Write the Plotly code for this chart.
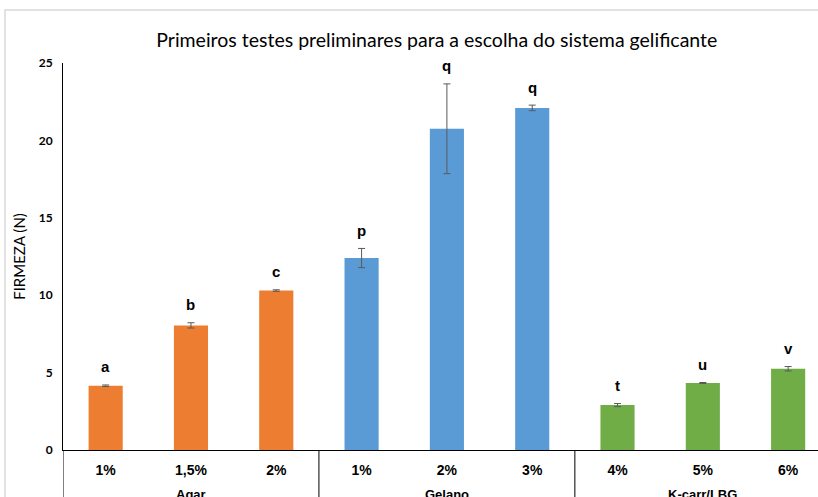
import plotly.graph_objects as go

# dados
categorias = ["1%", "1,5%", "2%", "1%", "2%", "3%", "4%", "5%", "6%"]
grupos = ["Agar", "Gelano", "K-carr/LBG"]
firmeza = [4.15, 8.05, 10.3, 12.4, 20.75, 22.1, 2.9, 4.33, 5.25]
desvio = [0.05, 0.17, 0.05, 0.62, 2.9, 0.18, 0.1, 0.03, 0.14]
letras = ["a", "b", "c", "p", "q", "q", "t", "u", "v"]

cores = ["#ED7D31"] * 3 + ["#5B9BD5"] * 3 + ["#70AD47"] * 3
fonte = "Lato"
fonte_arial = "Liberation Sans"
x = list(range(len(categorias)))

fig = go.Figure()
fig.add_trace(go.Bar(
    x=x, y=firmeza, width=0.4,
    marker=dict(color=cores, line=dict(width=0)),
    error_y=dict(type="data", array=desvio, visible=True,
                 color="#595959", thickness=1, width=3.5),
    showlegend=False,
))

# letras acima das barras
for xi, v, d, l in zip(x, firmeza, desvio, letras):
    fig.add_annotation(x=xi, y=v + d, text="<b>%s</b>" % l, showarrow=False,
                       yanchor="middle", yshift=18,
                       font=dict(family=fonte_arial, size=15, color="#000000"))

# nomes dos grupos
for i, g in enumerate(grupos):
    fig.add_annotation(x=3 * i + 1, y=-0.114, xref="x", yref="paper",
                       text="<b>%s</b>" % g, showarrow=False, yanchor="middle",
                       font=dict(family=fonte_arial, size=13, color="#000000"))

# divisórias entre grupos
for xd in [-0.5, 2.5, 5.5]:
    fig.add_shape(type="line", xref="x", yref="paper", x0=xd, x1=xd,
                  y0=0, y1=-0.3, line=dict(color="#000000", width=1))

# moldura do gráfico
fig.add_shape(type="rect", xref="paper", yref="paper",
              x0=-0.0768, x1=1.2, y0=-0.5, y1=1.137,
              line=dict(color="#D9D9D9", width=1.5), layer="below")

fig.update_layout(
    width=818, height=497,
    margin=dict(l=63, r=0, t=63, b=47, autoexpand=False),
    paper_bgcolor="white", plot_bgcolor="white",
    title=dict(text="Primeiros testes preliminares para a escolha do sistema gelificante",
               x=0.534, xanchor="center", y=0.919, yanchor="middle",
               font=dict(family=fonte, size=19.5, color="#000000")),
    font=dict(family=fonte, color="#000000"),
    bargap=0.6,
)
fig.update_xaxes(
    range=[-0.5, 8.35], tickvals=x,
    ticktext=["<b>%s</b>" % c for c in categorias],
    tickfont=dict(family=fonte_arial, size=14, color="#000000"),
    showline=True, linecolor="#000000", linewidth=1,
    ticks="", showgrid=False, zeroline=False, ticklabelstandoff=7,
    automargin=False,
)
fig.update_yaxes(
    range=[0, 25], tickvals=[0, 5, 10, 15, 20, 25],
    ticktext=["<b>%d</b>" % v for v in [0, 5, 10, 15, 20, 25]],
    tickfont=dict(family=fonte, size=12, color="#000000"),
    showline=True, linecolor="#000000", linewidth=1,
    ticks="", showgrid=False, zeroline=False, ticklabelstandoff=7,
    automargin=False,
    title=dict(text="FIRMEZA (N)", standoff=9,
               font=dict(family=fonte, size=15, color="#000000")),
)

# a página tem margem padrão de 8px no body; remove para alinhar
fig.write_html("out.html", config={"displayModeBar": False},
               post_script="document.body.style.margin='0';")
